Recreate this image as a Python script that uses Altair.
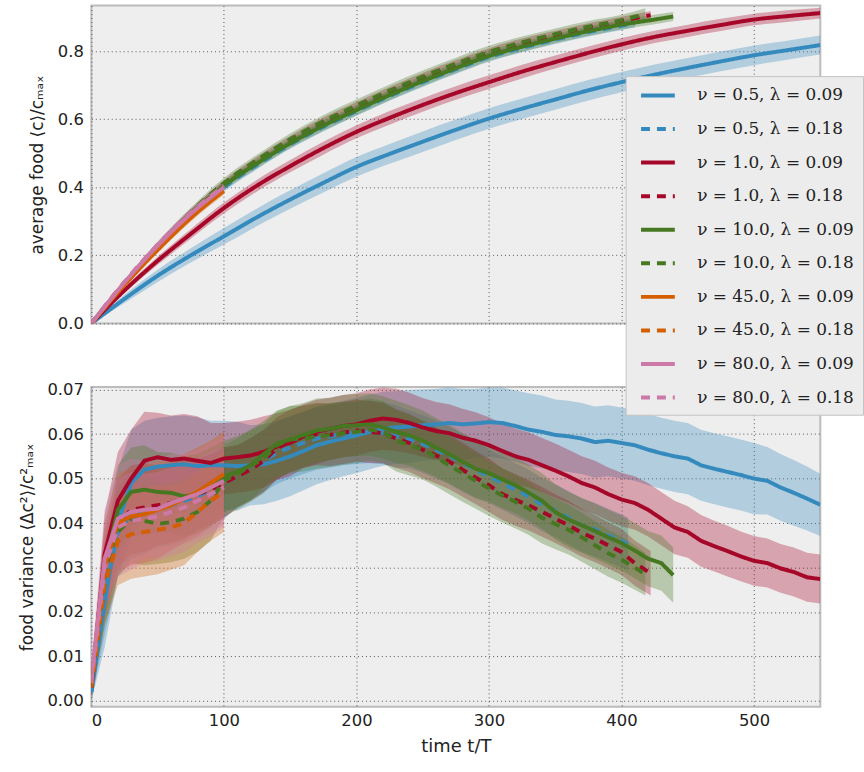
import altair as alt
import pandas as pd

# ---------------- categories / styling keys ----------------
NU = ["0.5", "1.0", "10.0", "45.0", "80.0"]
LAMBDA = ["0.09", "0.18"]
NU_COLORS = ["#348ABD", "#A60628", "#467821", "#D55E00", "#CC79A7"]
LABELS = [f"ν = {n}, λ = {l}" for n in NU for l in LAMBDA]
COLOR_RANGE = [c for c in NU_COLORS for _ in LAMBDA]
DASH_RANGE = [[1, 0], [9, 7]] * len(NU)

X_TICKS = [0, 100, 200, 300, 400, 500]
TOP_Y_TICKS = [0.0, 0.2, 0.4, 0.6, 0.8]
BOT_Y_TICKS = [0.0, 0.01, 0.02, 0.03, 0.04, 0.05, 0.06, 0.07]

# ---------------- top panel: average food (grid step 25) ----------------
TOP_T = list(range(0, 551, 25))
TOP_END = {"0.5|0.09": 550, "0.5|0.18": 410, "1.0|0.09": 550, "1.0|0.18": 422,
           "10.0|0.09": 439, "10.0|0.18": 418, "45.0|0.09": 100, "45.0|0.18": 100,
           "80.0|0.09": 100, "80.0|0.18": 100}

TOP_B09 = [0, 0.072, 0.140, 0.200, 0.256, 0.312, 0.364, 0.413, 0.460, 0.498, 0.534, 0.569,
           0.602, 0.631, 0.658, 0.685, 0.709, 0.731, 0.751, 0.770, 0.788, 0.803, 0.818]
TOP_B09_SD = [0.002, 0.012, 0.018, 0.021, 0.024, 0.026, 0.027, 0.028, 0.029, 0.029, 0.030, 0.030,
              0.030, 0.030, 0.030, 0.030, 0.030, 0.030, 0.029, 0.029, 0.029, 0.028, 0.028]
TOP_B18 = [0, 0.116, 0.222, 0.318, 0.400, 0.466, 0.526, 0.578, 0.624, 0.668, 0.709, 0.747,
           0.783, 0.810, 0.834, 0.856, 0.875, 0.882]
TOP_B18_SD = [0.002, 0.007, 0.010, 0.011, 0.012, 0.013, 0.013, 0.014, 0.014, 0.014, 0.014, 0.014,
              0.014, 0.013, 0.013, 0.013, 0.013, 0.012]
TOP_R09 = [0, 0.097, 0.184, 0.263, 0.339, 0.405, 0.462, 0.515, 0.563, 0.604, 0.642, 0.677,
           0.709, 0.740, 0.768, 0.795, 0.820, 0.842, 0.860, 0.877, 0.893, 0.903, 0.912]
TOP_R09_SD = [0.002, 0.008, 0.012, 0.014, 0.016, 0.017, 0.018, 0.019, 0.019, 0.020, 0.020, 0.020,
              0.020, 0.020, 0.019, 0.019, 0.019, 0.018, 0.018, 0.018, 0.017, 0.017, 0.016]
TOP_R18 = [0, 0.119, 0.227, 0.325, 0.410, 0.478, 0.539, 0.592, 0.638, 0.682, 0.723, 0.761,
           0.796, 0.824, 0.848, 0.870, 0.889, 0.906]
TOP_R18_SD = [0.002, 0.006, 0.008, 0.010, 0.011, 0.012, 0.012, 0.013, 0.013, 0.013, 0.013, 0.013,
              0.013, 0.013, 0.012, 0.012, 0.012, 0.012]
TOP_G09 = [0, 0.118, 0.226, 0.323, 0.405, 0.470, 0.529, 0.581, 0.627, 0.671, 0.712, 0.750,
           0.786, 0.813, 0.837, 0.859, 0.878, 0.893, 0.902]
TOP_G09_SD = [0.002, 0.007, 0.010, 0.012, 0.013, 0.014, 0.014, 0.015, 0.015, 0.015, 0.015, 0.015,
              0.015, 0.015, 0.014, 0.014, 0.014, 0.014, 0.013]
TOP_G18 = [0, 0.120, 0.229, 0.327, 0.412, 0.480, 0.541, 0.594, 0.640, 0.684, 0.725, 0.763,
           0.798, 0.826, 0.850, 0.872, 0.891, 0.910]
TOP_G18_SD = [0.002, 0.008, 0.011, 0.013, 0.015, 0.016, 0.017, 0.018, 0.018, 0.018, 0.018, 0.018,
              0.018, 0.017, 0.017, 0.017, 0.016, 0.016]
TOP_O09 = [0, 0.113, 0.216, 0.310, 0.390]
TOP_O09_SD = [0.002, 0.007, 0.009, 0.011, 0.012]
TOP_O18 = [0, 0.115, 0.219, 0.313, 0.393]
TOP_O18_SD = [0.002, 0.006, 0.009, 0.010, 0.011]
TOP_P09 = [0, 0.120, 0.228, 0.322, 0.400]
TOP_P09_SD = [0.002, 0.008, 0.011, 0.013, 0.014]
TOP_P18 = [0, 0.122, 0.231, 0.326, 0.405]
TOP_P18_SD = [0.002, 0.007, 0.010, 0.012, 0.013]

# ---------------- bottom panel: food variance (grid step 10) ----------------
BOT_T = list(range(0, 551, 10))
BOT_END = {"0.5|0.09": 550, "0.5|0.18": 405, "1.0|0.09": 550, "1.0|0.18": 422,
           "10.0|0.09": 439, "10.0|0.18": 418, "45.0|0.09": 100, "45.0|0.18": 100,
           "80.0|0.09": 100, "80.0|0.18": 100}

BOT_B09 = [0.002, 0.022, 0.040, 0.049, 0.052, 0.0527, 0.0530, 0.0532, 0.0528, 0.0530,
           0.0530, 0.0528, 0.0530, 0.0532, 0.0540, 0.0550, 0.0562, 0.0575, 0.0583, 0.0590,
           0.0597, 0.0605, 0.0612, 0.0615, 0.0617, 0.0620, 0.0622, 0.0625, 0.0622, 0.0624,
           0.0627, 0.0625, 0.0618, 0.0610, 0.0605, 0.0598, 0.0595, 0.0590, 0.0582, 0.0585,
           0.0580, 0.0575, 0.0565, 0.0557, 0.0550, 0.0545, 0.0530, 0.0522, 0.0515, 0.0508,
           0.0500, 0.0495, 0.0480, 0.0468, 0.0455, 0.0441]
BOT_B09_SD = [0.002, 0.010, 0.012, 0.012, 0.011, 0.011, 0.011, 0.011, 0.011, 0.010,
              0.010, 0.010, 0.009, 0.009, 0.009, 0.009, 0.0088, 0.0088, 0.0086, 0.0085,
              0.0085, 0.0084, 0.0083, 0.0082, 0.0082, 0.0080, 0.0080, 0.0080, 0.0080, 0.0078,
              0.0078, 0.0080, 0.0080, 0.0082, 0.0082, 0.0080, 0.0080, 0.0080, 0.0080, 0.0080,
              0.0080, 0.0080, 0.0080, 0.0080, 0.0080, 0.0080, 0.0080, 0.0080, 0.0080, 0.0080,
              0.0080, 0.0076, 0.0075, 0.0074, 0.0072, 0.0070]
BOT_B18 = [0.002, 0.024, 0.038, 0.042, 0.0430, 0.0435, 0.0440, 0.0450, 0.0460, 0.0475,
           0.0490, 0.0505, 0.0522, 0.0540, 0.0558, 0.0570, 0.0580, 0.0590, 0.0595, 0.0600,
           0.0603, 0.0605, 0.0602, 0.0595, 0.0588, 0.0578, 0.0565, 0.0552, 0.0535, 0.0520,
           0.0505, 0.0490, 0.0475, 0.0460, 0.0442, 0.0428, 0.0412, 0.0395, 0.0385, 0.0372,
           0.0360, 0.0352]
BOT_B18_SD = [0.002, 0.009, 0.010, 0.010, 0.010, 0.009, 0.009, 0.009, 0.008, 0.008,
              0.008, 0.007, 0.007, 0.007, 0.007, 0.007, 0.007, 0.007, 0.007, 0.007,
              0.007, 0.007, 0.007, 0.007, 0.0065, 0.0065, 0.0065, 0.0065, 0.0065, 0.0065,
              0.006, 0.006, 0.006, 0.006, 0.006, 0.006, 0.006, 0.006, 0.006, 0.006,
              0.006, 0.006]
BOT_R09 = [0.003, 0.033, 0.045, 0.050, 0.054, 0.0548, 0.0542, 0.0545, 0.0540, 0.0535,
           0.0545, 0.0548, 0.0552, 0.0560, 0.0572, 0.0580, 0.0595, 0.0605, 0.0612, 0.0618,
           0.0622, 0.0630, 0.0635, 0.0632, 0.0625, 0.0615, 0.0607, 0.0602, 0.0592, 0.0585,
           0.0575, 0.0562, 0.0550, 0.0542, 0.0530, 0.0518, 0.0505, 0.0490, 0.0480, 0.0465,
           0.0453, 0.0445, 0.0430, 0.0410, 0.0390, 0.0380, 0.0360, 0.0348, 0.0337, 0.0325,
           0.0315, 0.0310, 0.0298, 0.0290, 0.0278, 0.0274]
BOT_R09_SD = [0.002, 0.009, 0.011, 0.011, 0.011, 0.010, 0.010, 0.010, 0.010, 0.009,
              0.008, 0.008, 0.008, 0.008, 0.0075, 0.0075, 0.0072, 0.0072, 0.0070, 0.0070,
              0.0070, 0.0070, 0.0070, 0.0070, 0.0068, 0.0066, 0.0065, 0.0065, 0.0065, 0.0064,
              0.0063, 0.0062, 0.0062, 0.0062, 0.0061, 0.0061, 0.0060, 0.0060, 0.0060, 0.0060,
              0.0060, 0.0060, 0.0060, 0.0060, 0.0060, 0.0058, 0.0058, 0.0057, 0.0057, 0.0056,
              0.0056, 0.0055, 0.0055, 0.0055, 0.0055, 0.0055]
BOT_R18 = [0.003, 0.028, 0.040, 0.043, 0.0435, 0.0440, 0.0445, 0.0455, 0.0465, 0.0475,
           0.0490, 0.0505, 0.0520, 0.0540, 0.0568, 0.0585, 0.0595, 0.0600, 0.0598, 0.0603,
           0.0608, 0.0605, 0.0602, 0.0590, 0.0580, 0.0565, 0.0552, 0.0538, 0.0520, 0.0502,
           0.0485, 0.0465, 0.0452, 0.0440, 0.0425, 0.0410, 0.0395, 0.0378, 0.0365, 0.0350,
           0.0335, 0.0310, 0.0287]
BOT_R18_SD = [0.002, 0.009, 0.010, 0.010, 0.010, 0.009, 0.009, 0.009, 0.008, 0.008,
              0.008, 0.007, 0.007, 0.007, 0.007, 0.007, 0.007, 0.007, 0.007, 0.007,
              0.007, 0.007, 0.0068, 0.0066, 0.0065, 0.0064, 0.0063, 0.0062, 0.0061, 0.0060,
              0.0060, 0.0058, 0.0058, 0.0057, 0.0056, 0.0055, 0.0055, 0.0054, 0.0053, 0.0052,
              0.0052, 0.0051, 0.0050]
BOT_G09 = [0.004, 0.030, 0.043, 0.047, 0.0475, 0.0470, 0.0468, 0.0460, 0.0465, 0.0480,
           0.0505, 0.0515, 0.0530, 0.0555, 0.0578, 0.0588, 0.0598, 0.0608, 0.0612, 0.0618,
           0.0620, 0.0622, 0.0615, 0.0605, 0.0597, 0.0585, 0.0570, 0.0555, 0.0538, 0.0522,
           0.0512, 0.0498, 0.0485, 0.0468, 0.0450, 0.0425, 0.0408, 0.0395, 0.0382, 0.0368,
           0.0355, 0.0338, 0.0320, 0.0310, 0.0283]
BOT_G09_SD = [0.002, 0.009, 0.010, 0.010, 0.010, 0.009, 0.009, 0.009, 0.009, 0.009,
              0.008, 0.008, 0.008, 0.0075, 0.0075, 0.0075, 0.0072, 0.0072, 0.0070, 0.0070,
              0.0070, 0.0070, 0.0070, 0.0070, 0.0068, 0.0068, 0.0066, 0.0066, 0.0065, 0.0065,
              0.0064, 0.0064, 0.0063, 0.0063, 0.0062, 0.0062, 0.0062, 0.0062, 0.0062, 0.0062,
              0.0062, 0.0062, 0.0062, 0.0062, 0.0062]
BOT_G18 = [0.003, 0.026, 0.038, 0.041, 0.0405, 0.0398, 0.0402, 0.0410, 0.0425, 0.0450,
           0.0495, 0.0510, 0.0528, 0.0545, 0.0575, 0.0588, 0.0590, 0.0595, 0.0598, 0.0602,
           0.0605, 0.0610, 0.0605, 0.0585, 0.0575, 0.0565, 0.0548, 0.0530, 0.0512, 0.0495,
           0.0478, 0.0462, 0.0448, 0.0432, 0.0412, 0.0398, 0.0385, 0.0368, 0.0350, 0.0332,
           0.0318, 0.0300, 0.0285]
BOT_G18_SD = [0.002, 0.009, 0.010, 0.010, 0.010, 0.009, 0.009, 0.009, 0.009, 0.009,
              0.008, 0.008, 0.008, 0.0078, 0.0076, 0.0075, 0.0074, 0.0073, 0.0072, 0.0071,
              0.0070, 0.0070, 0.0070, 0.0069, 0.0068, 0.0067, 0.0066, 0.0065, 0.0064, 0.0063,
              0.0062, 0.0061, 0.0060, 0.0059, 0.0058, 0.0057, 0.0056, 0.0055, 0.0054, 0.0053,
              0.0052, 0.0050, 0.0048]
BOT_O09 = [0.004, 0.030, 0.040, 0.0415, 0.0420, 0.0430, 0.0440, 0.0455, 0.0470, 0.0490, 0.0510]
BOT_O09_SD = [0.003, 0.010, 0.011, 0.011, 0.011, 0.011, 0.010, 0.010, 0.010, 0.0095, 0.0095]
BOT_O18 = [0.003, 0.026, 0.036, 0.0375, 0.0380, 0.0385, 0.0390, 0.0400, 0.0425, 0.0450, 0.0470]
BOT_O18_SD = [0.003, 0.009, 0.010, 0.010, 0.010, 0.010, 0.0095, 0.0095, 0.009, 0.009, 0.009]
BOT_P09 = [0.005, 0.032, 0.041, 0.0425, 0.0430, 0.0432, 0.0445, 0.0455, 0.0465, 0.0480, 0.0495]
BOT_P09_SD = [0.003, 0.011, 0.012, 0.012, 0.011, 0.011, 0.011, 0.010, 0.010, 0.010, 0.010]
BOT_P18 = [0.004, 0.030, 0.039, 0.0405, 0.0410, 0.0415, 0.0425, 0.0435, 0.0450, 0.0465, 0.0480]
BOT_P18_SD = [0.003, 0.010, 0.011, 0.011, 0.010, 0.010, 0.010, 0.010, 0.0095, 0.0095, 0.009]

TOP_SERIES = [TOP_B09, TOP_B18, TOP_R09, TOP_R18, TOP_G09, TOP_G18, TOP_O09, TOP_O18, TOP_P09, TOP_P18]
TOP_SDS = [TOP_B09_SD, TOP_B18_SD, TOP_R09_SD, TOP_R18_SD, TOP_G09_SD, TOP_G18_SD,
           TOP_O09_SD, TOP_O18_SD, TOP_P09_SD, TOP_P18_SD]
BOT_SERIES = [BOT_B09, BOT_B18, BOT_R09, BOT_R18, BOT_G09, BOT_G18, BOT_O09, BOT_O18, BOT_P09, BOT_P18]
BOT_SDS = [BOT_B09_SD, BOT_B18_SD, BOT_R09_SD, BOT_R18_SD, BOT_G09_SD, BOT_G18_SD,
           BOT_O09_SD, BOT_O18_SD, BOT_P09_SD, BOT_P18_SD]
KEYS = [f"{n}|{l}" for n in NU for l in LAMBDA]


def build(grid, series, sds, ends):
    rows = []
    for i, (key, mean, sd) in enumerate(zip(KEYS, series, sds)):
        times = grid[:len(mean) - 1] + [ends[key]]
        for t, m, s in zip(times, mean, sd):
            rows.append({"series": LABELS[i], "band_color": COLOR_RANGE[i], "order": i,
                         "t": t, "mean": m, "lo": m - s, "hi": m + s})
    return pd.DataFrame(rows)


top_df = build(TOP_T, TOP_SERIES, TOP_SDS, TOP_END)
bot_df = build(BOT_T, BOT_SERIES, BOT_SDS, BOT_END)

color_scale = alt.Scale(domain=LABELS, range=COLOR_RANGE)
dash_scale = alt.Scale(domain=LABELS, range=DASH_RANGE)

legend = alt.Legend(
    title=None, orient="none", legendX=538, legendY=71,
    symbolType="M-2,0H2", symbolSize=289, symbolStrokeWidth=4, symbolOffset=13,
    symbolOpacity=1, labelOffset=29, labelFont="DejaVu Serif", labelFontSize=17,
    labelColor="#222222", labelLimit=400, fillColor="#ececec", strokeColor="#c4c4c4",
    padding=9, rowPadding=14.8,
)


def panel(df, ydom, yticks, yfmt, ytitle, show_x, height, interp):
    xaxis = alt.Axis(values=X_TICKS, labels=show_x, title="time t/T" if show_x else None,
                     format="d", labelPadding=6 if show_x else 0)
    xenc = alt.X("t:Q", scale=alt.Scale(domain=[0, 550], nice=False, zero=False), axis=xaxis)
    yscale = alt.Scale(domain=ydom, nice=False, zero=False)
    yaxis = alt.Axis(values=yticks, format=yfmt, title=ytitle)
    band = alt.Chart(df).mark_area(opacity=0.32, clip=True, interpolate=interp).encode(
        x=xenc,
        y=alt.Y("lo:Q", scale=yscale, axis=yaxis),
        y2="hi:Q",
        fill=alt.Fill("band_color:N", scale=None),
        detail="series:N",
        order="order:Q",
    )
    line = alt.Chart(df).mark_line(strokeWidth=4, clip=True, interpolate=interp).encode(
        x=xenc,
        y=alt.Y("mean:Q", scale=yscale, axis=yaxis),
        color=alt.Color("series:N", scale=color_scale, legend=legend),
        strokeDash=alt.StrokeDash("series:N", scale=dash_scale, legend=legend),
    )
    return alt.layer(band, line).properties(width=734, height=height)


top = panel(top_df, [0, 0.934], TOP_Y_TICKS, ".1f", "average food ⟨c⟩/cₘₐₓ", False, 320,
            "monotone")
bottom = panel(bot_df, [-0.0013, 0.0706], BOT_Y_TICKS, ".2f",
               "food variance ⟨Δc²⟩/c²ₘₐₓ", True, 322, "linear")

chart = alt.vconcat(top, bottom, spacing=47).resolve_scale(
    color="shared", strokeDash="shared"
).properties(
    padding={"left": 17, "top": 2, "right": 0, "bottom": 0},
    background="white",
).configure_view(
    fill="#eeeeee", stroke="#bcbcbc", strokeWidth=2
).configure_axis(
    labelFont="DejaVu Sans", labelFontSize=16.5, labelColor="#222222",
    titleFont="DejaVu Sans", titleFontSize=17, titleFontWeight="normal", titleColor="#222222",
    ticks=False, domain=False, labelPadding=8,
    gridColor="#333333", gridDash=[1, 3], gridWidth=0.9, gridOpacity=0.9,
).configure_axisY(titlePadding=11).configure_axisX(titleFontSize=18, titlePadding=9)

chart.save("out.html", embed_options={"renderer": "svg", "actions": False})
